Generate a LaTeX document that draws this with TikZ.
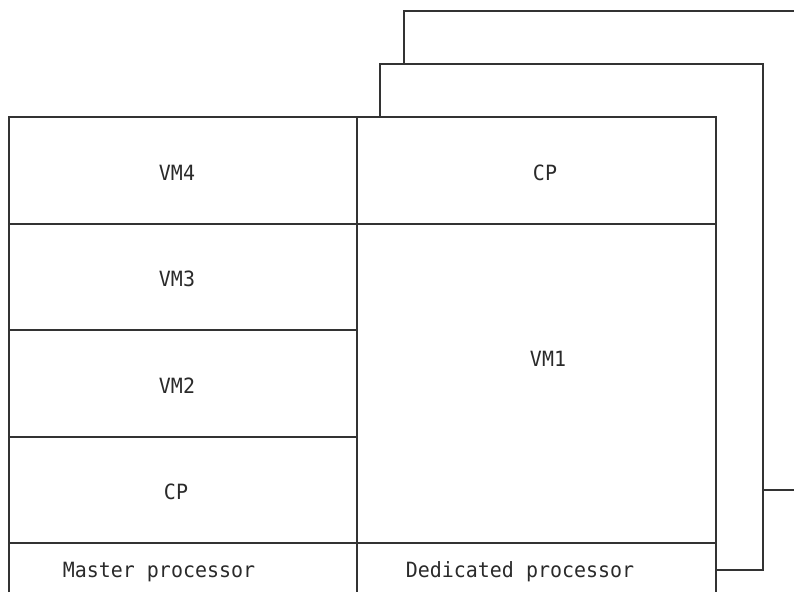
\documentclass[tikz,border=0pt]{standalone}
\usepackage{fontspec}
\newfontfamily\monof[FakeStretch=0.95]{DejaVu Sans Mono}
\definecolor{ln}{HTML}{333333}
\definecolor{tx}{HTML}{2A2A2A}
\begin{document}
\begin{tikzpicture}[x=1pt,y=-1pt,
  edge/.style={draw=ln,line width=1.2pt},
  lbl/.style={text=tx,inner sep=0pt,font=\monof\fontsize{21}{25}\selectfont}]
\useasboundingbox (0,0) rectangle (794,592);
% back frame
\draw[edge] (404,64) -- (404,11) -- (794,11);
\draw[edge] (794,490) -- (763,490);
% middle frame
\draw[edge] (380,117) -- (380,64) -- (763,64) -- (763,570) -- (716,570);
% front frame
\draw[edge] (9,592) -- (9,117) -- (716,117) -- (716,592);
\draw[edge] (357,117) -- (357,592);
\draw[edge] (9,224) -- (716,224);
\draw[edge] (9,330) -- (357,330);
\draw[edge] (9,437) -- (357,437);
\draw[edge] (9,543) -- (716,543);
% labels
\node[lbl] (vm4) at (177,173) {VM4};
\node[lbl] (vm3) at (177,279) {VM3};
\node[lbl] (vm2) at (177,386) {VM2};
\node[lbl] (cpl) at (176,492) {CP};
\node[lbl] (mast) at (159,572) {Master processor};
\node[lbl] (cpr) at (545,173) {CP};
\node[lbl] (vm1) at (548,359) {VM1};
\node[lbl] (ded) at (520,572) {Dedicated processor};
\end{tikzpicture}
\end{document}
